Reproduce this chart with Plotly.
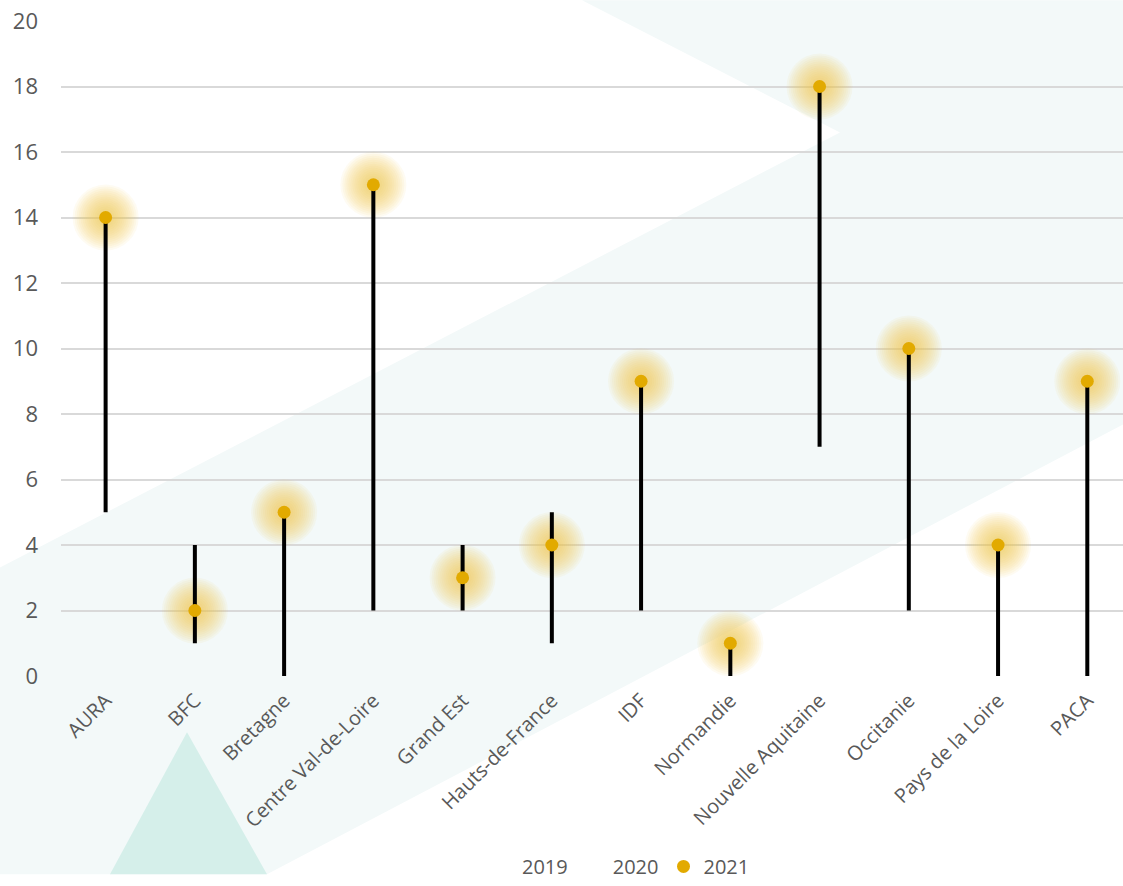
import plotly.graph_objects as go

# ---------------- data ----------------
regions = ["AURA", "BFC", "Bretagne", "Centre Val-de-Loire", "Grand Est",
           "Hauts-de-France", "IDF", "Normandie", "Nouvelle Aquitaine",
           "Occitanie", "Pays de la Loire", "PACA"]
v2019 = [5, 4, 0, 2, 2, 5, 2, 0, 7, 2, 0, 0]
v2020 = [5, 1, 0, 2, 4, 1, 2, 0, 7, 2, 0, 0]
v2021 = [14, 2, 5, 15, 3, 4, 9, 1, 18, 10, 4, 9]
y_ticks = [0, 2, 4, 6, 8, 10, 12, 14, 16, 18, 20]

# ---------------- layout geometry ----------------
W, H = 1123, 886
ML, MR, MT, MB = 61, 0, 21, 201
PW, PH = W - ML - MR, H - MT - MB


def px(x):
    return (x - ML) / PW


def py(y):
    return (H - MB - y) / PH


def path(points):
    return "M " + " L ".join(f"{px(a):.5f},{py(b):.5f}" for a, b in points) + " Z"


light_band = [(582, 0), (1123, 0), (1123, 430), (267, 886), (0, 886), (0, 575), (840, 134)]
dark_tri = [(187, 742), (267, 886), (110, 886)]

# high-low segments
lx, ly = [], []
for r, a, b, c in zip(regions, v2019, v2020, v2021):
    lo, hi = min(a, b, c), max(a, b, c)
    lx += [r, r, None]
    ly += [lo, hi, None]

fig = go.Figure()

# soft glow around 2021 markers
for s in range(66, 14, -4):
    fig.add_trace(go.Scatter(
        x=regions, y=v2021, mode="markers", showlegend=False, hoverinfo="skip",
        marker=dict(size=s, color="rgba(238,200,70,0.07)", line=dict(width=0)),
    ))

fig.add_trace(go.Scatter(
    x=lx, y=ly, mode="lines", showlegend=False, hoverinfo="skip",
    line=dict(color="#000000", width=4),
))

fig.add_trace(go.Scatter(
    x=regions, y=v2019, mode="markers", name="2019",
    marker=dict(size=10, color="rgba(0,0,0,0)"),
))
fig.add_trace(go.Scatter(
    x=regions, y=v2020, mode="markers", name="2020",
    marker=dict(size=10, color="rgba(0,0,0,0)"),
))
fig.add_trace(go.Scatter(
    x=regions, y=v2021, mode="markers", name="2021",
    marker=dict(size=13, color="#e2aa00", line=dict(width=0)),
))

fig.update_layout(
    width=W, height=H,
    margin=dict(l=ML, r=MR, t=MT, b=MB),
    paper_bgcolor="white", plot_bgcolor="rgba(0,0,0,0)",
    font=dict(family="Open Sans", color="#595959"),
    showlegend=True,
    legend=dict(orientation="h", x=px(482), xanchor="left", y=py(878), yanchor="middle",
                font=dict(size=20, color="#595959"), bgcolor="rgba(0,0,0,0)",
                itemwidth=30, traceorder="normal"),
    xaxis=dict(type="category", range=[-0.5, 11.4], showgrid=False, zeroline=False,
               showline=False, ticks="", tickangle=-45, tickfont=dict(size=20),
               ticklabelstandoff=8),
    yaxis=dict(range=[0, 20], tickvals=y_ticks, showgrid=True, gridcolor="#d9d9d9",
               gridwidth=1.5, zeroline=False, showline=False, ticks="",
               tickfont=dict(size=22), ticklabelstandoff=22),
    shapes=[
        dict(type="path", xref="paper", yref="paper", path=path(light_band),
             fillcolor="#f3f9f9", line=dict(width=0), layer="below"),
        dict(type="path", xref="paper", yref="paper", path=path(dark_tri),
             fillcolor="#d5efea", line=dict(width=0), layer="below"),
    ],
)

fig.write_html("out.html")
